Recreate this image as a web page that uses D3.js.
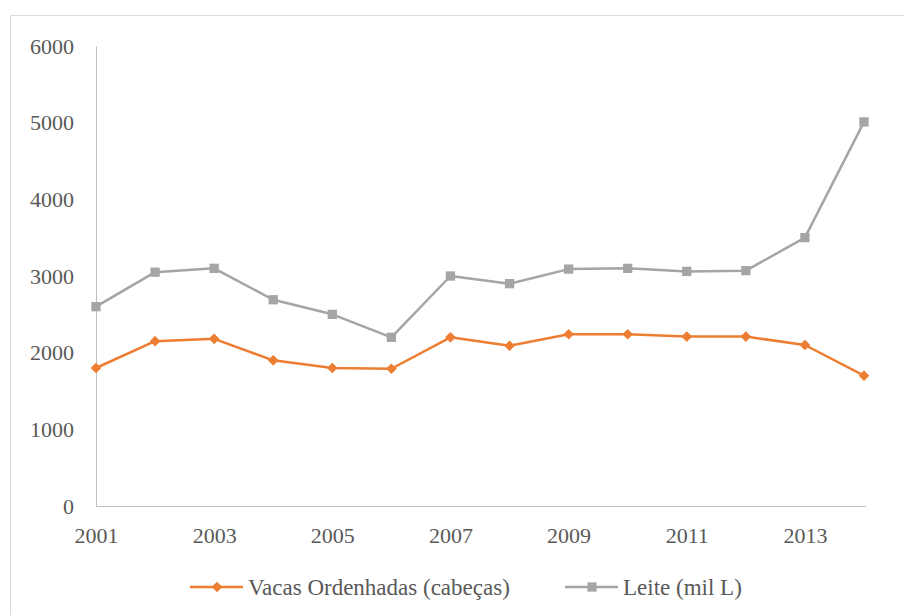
<!DOCTYPE html>
<html lang="pt">
<head>
<meta charset="UTF-8">
<title>Vacas ordenhadas e leite</title>
<style>
  body { margin: 0; background: #fff; }
  svg { display: block; }
</style>
</head>
<body>
<svg width="904" height="615"></svg>
<script src="https://d3js.org/d3.v7.min.js"></script>
<script>
const years = [2001, 2002, 2003, 2004, 2005, 2006, 2007, 2008, 2009, 2010, 2011, 2012, 2013, 2014];
const vacas = [1800, 2150, 2180, 1900, 1800, 1790, 2200, 2090, 2240, 2240, 2210, 2210, 2100, 1700];
const leite = [2600, 3050, 3100, 2690, 2500, 2200, 3000, 2900, 3090, 3100, 3060, 3070, 3500, 5010];
const xTicks = [2001, 2003, 2005, 2007, 2009, 2011, 2013];
const yTicks = [0, 1000, 2000, 3000, 4000, 5000, 6000];
const seriesNames = ["Vacas Ordenhadas (cabeças)", "Leite (mil L)"];

const svg = d3.select("svg");
const orange = "#ed7d31", grey = "#a5a5a5";
const serif = "'Liberation Serif', 'DejaVu Serif', serif";
const txt = "#595959";

// outer chart frame (only top and left edges visible)
svg.append("path")
  .attr("d", "M10.5,615 V15.5 H904")
  .attr("fill", "none")
  .attr("stroke", "#d9d9d9");

const x = d3.scaleLinear().domain([2001, 2014]).range([96, 864]);
const y = d3.scaleLinear().domain([0, 6000]).range([506, 46]);

// axes
const yAxis = svg.append("g")
  .attr("transform", "translate(96,0)")
  .call(d3.axisLeft(y).tickValues(yTicks).tickSize(0).tickPadding(22).tickFormat(d3.format("d")));
yAxis.select(".domain").attr("stroke", "#bfbfbf");
yAxis.attr("font-family", serif).attr("font-size", 22);
yAxis.selectAll("text").attr("fill", txt).attr("dy", "0.33em");

const xAxis = svg.append("g")
  .attr("transform", "translate(0,506)")
  .call(d3.axisBottom(x).tickValues(xTicks).tickSize(0).tickPadding(21).tickFormat(d3.format("d")));
xAxis.select(".domain").attr("stroke", "#bfbfbf").attr("d", "M96,0.5H866");
xAxis.attr("font-family", serif).attr("font-size", 22);
xAxis.selectAll("text").attr("fill", txt);

const line = d3.line().x((d, i) => x(years[i])).y(d => y(d));

const series = [
  { name: seriesNames[0], values: vacas, color: orange, shape: d3.symbolDiamond2, size: 72 },
  { name: seriesNames[1], values: leite, color: grey, shape: d3.symbolSquare2, size: 110 }
];

series.forEach(s => {
  svg.append("path")
    .datum(s.values)
    .attr("d", line)
    .attr("fill", "none")
    .attr("stroke", s.color)
    .attr("stroke-width", 2.5)
    .attr("stroke-linejoin", "round");
  svg.selectAll(null)
    .data(s.values)
    .join("path")
    .attr("transform", (d, i) => `translate(${x(years[i])},${y(d)})`)
    .attr("d", d3.symbol().type(s.shape).size(s.size))
    .attr("fill", s.color);
});

// legend
const legendItems = [
  { x0: 190, ...series[0] },
  { x0: 565, ...series[1] }
];
legendItems.forEach(l => {
  const g = svg.append("g").attr("transform", `translate(${l.x0},587)`);
  g.append("line").attr("x1", 0).attr("x2", 53).attr("stroke", l.color).attr("stroke-width", 2.5);
  g.append("path").attr("transform", "translate(27,0)")
    .attr("d", d3.symbol().type(l.shape).size(l.size)).attr("fill", l.color);
  g.append("text").attr("x", 58).attr("dy", "0.33em")
    .attr("font-family", serif).attr("font-size", 23).attr("fill", txt)
    .text(l.name);
});
</script>
</body>
</html>
